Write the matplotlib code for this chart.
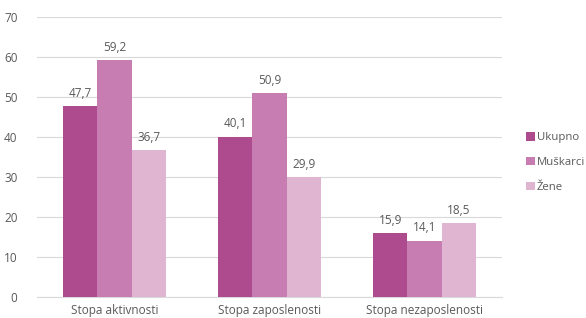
import matplotlib
matplotlib.use("Agg")
import matplotlib.pyplot as plt
import numpy as np

categories = ["Stopa aktivnosti", "Stopa zaposlenosti", "Stopa nezaposlenosti"]
series_names = ["Ukupno", "Muškarci", "Žene"]
ukupno = [47.7, 40.1, 15.9]
muskarci = [59.2, 50.9, 14.1]
zene = [36.7, 29.9, 18.5]
colors = ["#ae4a8e", "#c77db2", "#dfb5d1"]

plt.rcParams['font.family'] = ['Open Sans', 'DejaVu Sans']
txt = "#595959"

fig = plt.figure(figsize=(5.86, 3.18), dpi=100)
ax = fig.add_axes([37 / 586, 21 / 318, 465 / 586, 280 / 318])

x = np.arange(len(categories))
w = 0.222
for i, (vals, name) in enumerate(zip([ukupno, muskarci, zene], series_names)):
    pos = x + (i - 1) * w
    ax.bar(pos, vals, width=w, color=colors[i], label=name, zorder=3)
    for p, v in zip(pos, vals):
        ax.text(p, v + 1.6, f"{v:.1f}".replace(".", ","), ha="center", va="bottom",
                fontsize=8.5, color=txt)

ax.set_xlim(-0.5, 2.5)
ax.set_ylim(0, 70)
ax.set_yticks(range(0, 71, 10))
ax.set_xticks(x)
ax.set_xticklabels(categories)
ax.yaxis.grid(True, color="#d9d9d9", linewidth=0.8, zorder=0)
ax.set_axisbelow(True)
for s in ["top", "right", "left"]:
    ax.spines[s].set_visible(False)
ax.spines["bottom"].set_color("#d9d9d9")
ax.tick_params(axis="both", length=0, labelsize=8.5, labelcolor=txt)
ax.tick_params(axis="y", pad=14)
ax.tick_params(axis="x", pad=5)

leg = ax.legend(loc="center left", bbox_to_anchor=(1.04, 0.48), frameon=False,
                fontsize=8.2, handlelength=0.75, handleheight=0.75, handletextpad=0.2,
                labelspacing=1.2, borderpad=0)
for t in leg.get_texts():
    t.set_color(txt)

fig.savefig("out.png", dpi=100)
